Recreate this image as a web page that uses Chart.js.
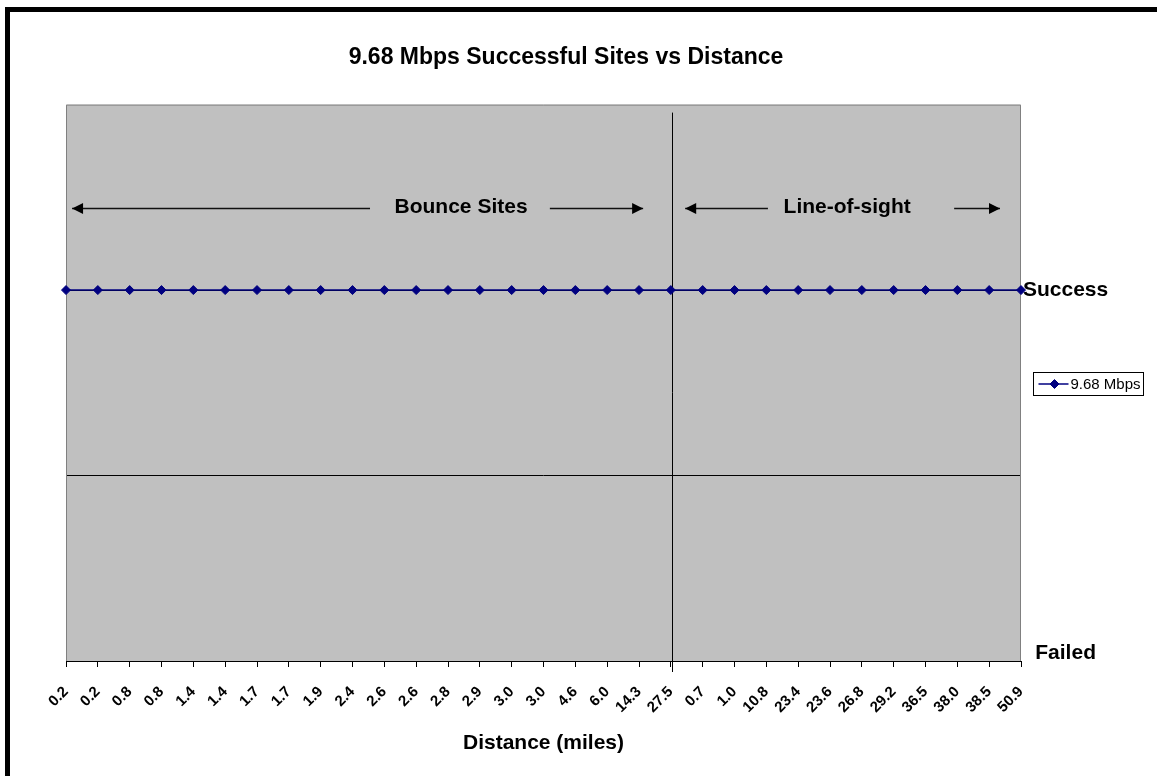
<!DOCTYPE html>
<html>
<head>
<meta charset="utf-8">
<title>9.68 Mbps Successful Sites vs Distance</title>
<script src="https://cdn.jsdelivr.net/npm/chart.js@4/dist/chart.umd.min.js"></script>
<style>
  html, body { margin: 0; padding: 0; background: #fff; overflow: hidden; }
  canvas { display: block; }
</style>
</head>
<body>
<canvas id="chart" width="1157" height="776"></canvas>
<script>
// Site distances in miles, grouped by path type
const bounceDistances = ['0.2', '0.2', '0.8', '0.8', '1.4', '1.4', '1.7', '1.7', '1.9', '2.4',
                         '2.6', '2.6', '2.8', '2.9', '3.0', '3.0', '4.6', '6.0', '14.3', '27.5'];
const lineOfSightDistances = ['0.7', '1.0', '10.8', '23.4', '23.6', '26.8', '29.2', '36.5', '38.0', '38.5', '50.9'];

// Outcome per site: 1 = success, 0 = failed
const bounceResults = [1, 1, 1, 1, 1, 1, 1, 1, 1, 1, 1, 1, 1, 1, 1, 1, 1, 1, 1, 1];
const lineOfSightResults = [1, 1, 1, 1, 1, 1, 1, 1, 1, 1, 1];

// Outcome axis tick labels
const outcomeValues = [0, 1];
const outcomeLabels = ['Failed', 'Success'];

const seriesName = '9.68 Mbps';
const distanceLabels = bounceDistances.concat(lineOfSightDistances);
const siteResults = bounceResults.concat(lineOfSightResults);

const FONT = "'Liberation Sans', Arial, Helvetica, sans-serif";
Chart.defaults.font.family = FONT;
Chart.defaults.color = '#000';

// Region notes above the series, placed in category/value units
const regionNotes = {
  level: 1.22,
  groups: [
    { text: 'Bounce Sites', textAt: 12.41, left: [0.19, 9.55], right: [15.2, 18.13] },
    { text: 'Line-of-sight', textAt: 24.54, left: [19.45, 22.05], right: [27.9, 29.34] }
  ]
};

function arrow(ctx, x1, x2, y, headAtStart) {
  const tip = headAtStart ? x1 : x2;
  const dir = headAtStart ? 1 : -1;
  ctx.beginPath();
  ctx.moveTo(x1, y);
  ctx.lineTo(x2, y);
  ctx.stroke();
  ctx.beginPath();
  ctx.moveTo(tip, y);
  ctx.lineTo(tip + dir * 11, y - 5.5);
  ctx.lineTo(tip + dir * 11, y + 5.5);
  ctx.closePath();
  ctx.fill();
}

const chartDecor = {
  id: 'chartDecor',
  beforeDraw(chart) {
    const { ctx, chartArea: a } = chart;
    ctx.save();
    ctx.fillStyle = '#fff';
    ctx.fillRect(0, 0, chart.width, chart.height);
    // page frame
    ctx.fillStyle = '#000';
    ctx.fillRect(5, 7, chart.width - 5, 5);
    ctx.fillRect(5, 7, 5, chart.height - 7);
    // plot area fill
    ctx.fillStyle = '#c0c0c0';
    ctx.fillRect(a.left, a.top, a.right - a.left, a.bottom - a.top);
    ctx.restore();
  },
  beforeDatasetsDraw(chart) {
    const { ctx, chartArea: a, scales } = chart;
    ctx.save();
    // plot area outline
    ctx.strokeStyle = '#808080';
    ctx.lineWidth = 1;
    ctx.beginPath();
    ctx.moveTo(a.left + 0.5, a.bottom);
    ctx.lineTo(a.left + 0.5, a.top + 0.5);
    ctx.lineTo(a.right - 0.5, a.top + 0.5);
    ctx.lineTo(a.right - 0.5, a.bottom);
    ctx.stroke();
    // divider between the bounce and line-of-sight groups
    const dx = Math.round(scales.x.getPixelForValue(bounceDistances.length - 1)) + 1.5;
    ctx.strokeStyle = '#000';
    ctx.beginPath();
    ctx.moveTo(dx, a.top + 8);
    ctx.lineTo(dx, a.bottom + 11);
    ctx.stroke();
    // group notes with arrows
    const y = Math.round(scales.y.getPixelForValue(regionNotes.level)) + 0.5;
    ctx.strokeStyle = '#111';
    ctx.fillStyle = '#000';
    ctx.lineWidth = 1.5;
    ctx.font = 'bold 21px ' + FONT;
    ctx.textAlign = 'center';
    ctx.textBaseline = 'middle';
    regionNotes.groups.forEach(g => {
      const px = v => scales.x.getPixelForValue(v);
      arrow(ctx, px(g.left[0]), px(g.left[1]), y, true);
      arrow(ctx, px(g.right[0]), px(g.right[1]), y, false);
      ctx.fillText(g.text, px(g.textAt), y - 1);
    });
    ctx.restore();
  },
  afterDraw(chart) {
    // series key box
    const { ctx } = chart;
    const ds = chart.data.datasets[0];
    const bx = 1033.5, by = 372.5, bw = 110, bh = 23;
    const cy = by + bh / 2;
    ctx.save();
    ctx.fillStyle = '#fff';
    ctx.fillRect(bx, by, bw, bh);
    ctx.strokeStyle = '#000';
    ctx.lineWidth = 1;
    ctx.strokeRect(bx, by, bw, bh);
    ctx.strokeStyle = ds.borderColor;
    ctx.lineWidth = ds.borderWidth;
    ctx.beginPath();
    ctx.moveTo(bx + 5, cy);
    ctx.lineTo(bx + 35, cy);
    ctx.stroke();
    ctx.fillStyle = ds.pointBackgroundColor;
    ctx.strokeStyle = ds.pointBorderColor;
    ctx.lineWidth = ds.pointBorderWidth;
    Chart.helpers.drawPoint(ctx, { pointStyle: ds.pointStyle, radius: ds.pointRadius, borderWidth: ds.pointBorderWidth }, bx + 21, cy);
    ctx.fillStyle = '#000';
    ctx.font = '15px ' + FONT;
    ctx.textAlign = 'left';
    ctx.textBaseline = 'middle';
    ctx.fillText(ds.label, bx + 37, cy + 0.5);
    ctx.restore();
  }
};

new Chart(document.getElementById('chart'), {
  type: 'line',
  data: {
    labels: distanceLabels,
    datasets: [{
      label: seriesName,
      data: siteResults,
      xAxisID: 'x',
      yAxisID: 'y',
      borderColor: '#000080',
      backgroundColor: '#000080',
      pointBackgroundColor: '#000080',
      pointBorderColor: '#000080',
      borderWidth: 1.5,
      pointStyle: 'rectRot',
      pointRadius: 4.5,
      pointBorderWidth: 1,
      tension: 0,
      clip: false
    }]
  },
  options: {
    responsive: false,
    animation: false,
    events: [],
    layout: { padding: { left: 0, top: 0, right: 25, bottom: 0 } },
    plugins: {
      legend: { display: false },
      tooltip: { enabled: false },
      title: {
        display: true,
        text: '9.68 Mbps Successful Sites vs Distance',
        color: '#000',
        font: { size: 23, weight: 'bold', lineHeight: 1.2 },
        padding: { top: 44, bottom: 33 }
      }
    },
    scales: {
      x: {
        type: 'category',
        offset: false,
        ticks: {
          autoSkip: false,
          minRotation: 45,
          maxRotation: 45,
          padding: 16,
          color: '#000',
          font: { size: 15, weight: 'bold' }
        },
        grid: { drawOnChartArea: false, drawTicks: true, tickLength: 6, color: '#000' },
        border: { display: true, color: '#000', width: 1 },
        title: {
          display: true,
          text: 'Distance (miles)',
          color: '#000',
          font: { size: 21, weight: 'bold', lineHeight: 1.2 },
          padding: { top: 0, bottom: 20 }
        },
        afterFit(s) { s.height = 115; }
      },
      yPad: {
        type: 'linear',
        position: 'left',
        display: true,
        ticks: { display: false },
        grid: { display: false },
        border: { display: false },
        afterFit(s) { s.width = 66; }
      },
      y: {
        type: 'linear',
        position: 'right',
        min: 0,
        max: 1.5,
        ticks: {
          stepSize: 0.5,
          padding: 2,
          crossAlign: 'center',
          color: '#000',
          font: ctx => ({
            size: 21,
            weight: 'bold',
            lineHeight: (ctx.tick && ctx.tick.value === 0) ? 16 / 21 : 1.2
          }),
          callback: v => {
            const i = outcomeValues.indexOf(v);
            if (i < 0) return '';
            return v === 0 ? [outcomeLabels[i], ''] : outcomeLabels[i];
          }
        },
        grid: {
          drawTicks: false,
          lineWidth: 1,
          color: ctx => (ctx.tick && (ctx.tick.value === 0.5 || ctx.tick.value === 1)) ? '#000' : 'rgba(0,0,0,0)'
        },
        border: { display: false },
        afterFit(s) { s.width = 111; }
      }
    }
  },
  plugins: [chartDecor]
});
</script>
</body>
</html>
